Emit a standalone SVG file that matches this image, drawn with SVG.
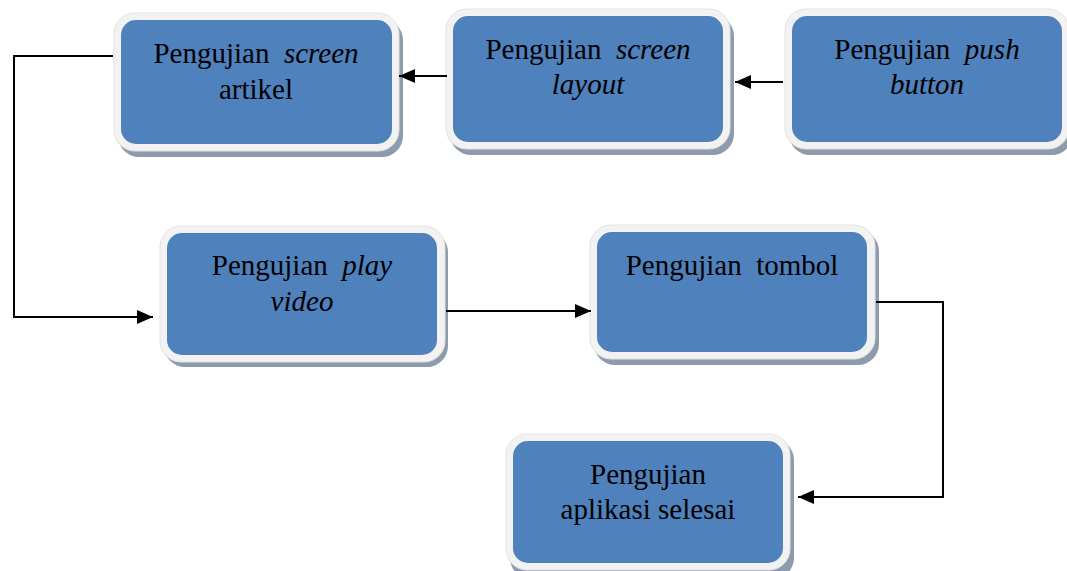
<svg xmlns="http://www.w3.org/2000/svg" width="1067" height="571" viewBox="0 0 1067 571">
  <defs>
    <style>
      .shadow { fill: #8E9BAC; }
      .frame { fill: #F2F2F2; stroke: #E2E2E2; stroke-width: 1; }
      .box { fill: #4F81BD; }
      .lbl { font-family: "Liberation Serif", "Times New Roman", serif; font-size: 29px; fill: #000; text-anchor: middle; }
      .it { font-style: italic; }
      .conn { fill: none; stroke: #000; stroke-width: 2; }
    </style>
    <marker id="arrow" markerUnits="userSpaceOnUse" markerWidth="16" markerHeight="14" refX="16" refY="7" orient="auto">
      <path d="M0,0 L16,7 L0,14 Z" fill="#000"/>
    </marker>
  </defs>
  <rect width="1067" height="571" fill="#fff"/>

  <g id="node-screen-artikel">
    <rect class="shadow" x="118" y="19" width="285" height="138" rx="21"/>
    <rect class="frame" x="114" y="13" width="285" height="138" rx="21"/>
    <rect class="box" x="121" y="20" width="271" height="124" rx="15"/>
    <text class="lbl" x="256" y="63" xml:space="preserve">Pengujian  <tspan class="it">screen</tspan></text>
    <text class="lbl" x="256" y="99">artikel</text>
  </g>

  <g id="node-screen-layout">
    <rect class="shadow" x="450" y="15" width="284" height="140" rx="21"/>
    <rect class="frame" x="446" y="9" width="284" height="140" rx="21"/>
    <rect class="box" x="453" y="16" width="270" height="126" rx="15"/>
    <text class="lbl" x="588" y="59" xml:space="preserve">Pengujian  <tspan class="it">screen</tspan></text>
    <text class="lbl it" x="588" y="94">layout</text>
  </g>

  <g id="node-push-button">
    <rect class="shadow" x="789" y="15" width="284" height="140" rx="21"/>
    <rect class="frame" x="785" y="9" width="284" height="140" rx="21"/>
    <rect class="box" x="792" y="16" width="270" height="126" rx="15"/>
    <text class="lbl" x="927" y="59" xml:space="preserve">Pengujian  <tspan class="it">push</tspan></text>
    <text class="lbl it" x="927" y="94">button</text>
  </g>

  <g id="node-play-video">
    <rect class="shadow" x="164" y="231" width="284" height="136" rx="21"/>
    <rect class="frame" x="160" y="226" width="285" height="136" rx="21"/>
    <rect class="box" x="167" y="233" width="270" height="122" rx="15"/>
    <text class="lbl" x="302" y="275" xml:space="preserve">Pengujian  <tspan class="it">play</tspan></text>
    <text class="lbl it" x="302" y="311">video</text>
  </g>

  <g id="node-tombol">
    <rect class="shadow" x="594" y="230" width="285" height="135" rx="21"/>
    <rect class="frame" x="590" y="225" width="285" height="134" rx="21"/>
    <rect class="box" x="597" y="232" width="270" height="120" rx="15"/>
    <text class="lbl" x="732" y="275" xml:space="preserve">Pengujian  tombol</text>
  </g>

  <g id="node-aplikasi-selesai">
    <rect class="shadow" x="510" y="439" width="284" height="140" rx="21"/>
    <rect class="frame" x="506" y="434" width="284" height="136" rx="21"/>
    <rect class="box" x="513" y="441" width="270" height="122" rx="15"/>
    <text class="lbl" x="648" y="484">Pengujian</text>
    <text class="lbl" x="648" y="519">aplikasi selesai</text>
  </g>

  <g id="connectors">
    <line class="conn" x1="783" y1="82" x2="735" y2="82" marker-end="url(#arrow)"/>
    <line class="conn" x1="447" y1="76" x2="399" y2="76" marker-end="url(#arrow)"/>
    <polyline class="conn" points="113,56 14,56 14,317 153,317" marker-end="url(#arrow)"/>
    <line class="conn" x1="446" y1="311" x2="591" y2="311" marker-end="url(#arrow)"/>
    <polyline class="conn" points="876,302 943,302 943,497 798,497" marker-end="url(#arrow)"/>
  </g>
</svg>
